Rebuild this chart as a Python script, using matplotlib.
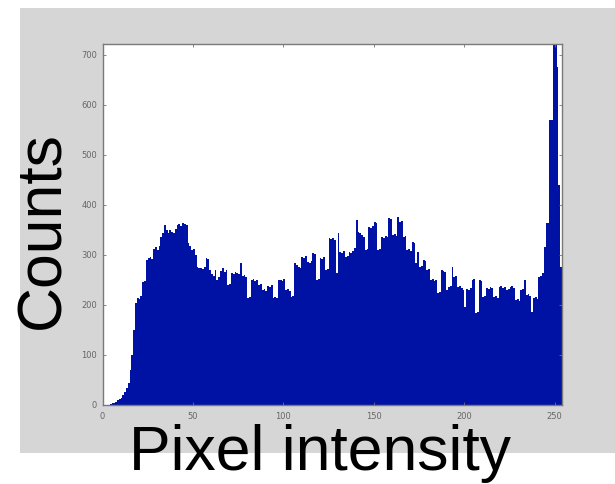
import numpy as np
from matplotlib import pyplot as plt
from matplotlib.patches import Rectangle

# histogram counts, one value per grey level 0..255
counts = [
    0, 0, 0, 1, 2, 4, 5, 6, 10, 12,
    14, 20, 26, 34, 44, 70, 100, 150, 205, 214,
    212, 218, 246, 248, 290, 294, 296, 292, 312, 316,
    310, 318, 336, 344, 360, 350, 344, 350, 346, 344,
    352, 360, 362, 358, 364, 362, 360, 324, 318, 310,
    312, 300, 276, 274, 274, 272, 276, 294, 292, 270,
    262, 258, 270, 250, 256, 268, 274, 266, 270, 240,
    242, 264, 262, 266, 264, 262, 284, 258, 260, 256,
    214, 216, 250, 252, 248, 250, 240, 242, 230, 232,
    228, 238, 236, 240, 214, 216, 214, 250, 250, 248,
    252, 230, 232, 228, 216, 218, 284, 280, 276, 274,
    296, 294, 298, 286, 284, 288, 304, 302, 250, 252,
    294, 292, 296, 270, 272, 334, 332, 334, 330, 264,
    344, 306, 304, 308, 296, 298, 306, 304, 308, 314,
    370, 346, 344, 340, 336, 310, 312, 356, 354, 358,
    366, 364, 310, 312, 336, 334, 338, 336, 374, 372,
    340, 342, 338, 376, 366, 368, 336, 338, 310, 312,
    308, 326, 324, 284, 306, 276, 278, 290, 288, 270,
    272, 250, 252, 248, 250, 224, 226, 270, 268, 266,
    230, 236, 238, 276, 256, 258, 236, 238, 234, 230,
    196, 232, 230, 234, 250, 252, 184, 186, 250, 248,
    216, 218, 234, 232, 236, 234, 216, 218, 214, 236,
    238, 234, 236, 230, 232, 236, 238, 234, 210, 212,
    208, 230, 232, 250, 220, 222, 218, 186, 214, 216,
    212, 256, 258, 264, 316, 364, 364, 570, 570, 780,
    790, 676, 440, 276, 276, 0,
]
edges = np.arange(len(counts) + 1)

xticks = [0, 50, 100, 150, 200, 250]
yticks = [0, 100, 200, 300, 400, 500, 600, 700]

fig = plt.figure(figsize=(6.15, 4.84), dpi=100)
fig.patch.set_facecolor('white')
# grey figure window behind the axes
fig.patches.append(Rectangle((20/615, 31/484), 1 - 20/615, 445/484,
                             transform=fig.transFigure, facecolor='#d6d6d6',
                             edgecolor='none', zorder=-5))

ax = fig.add_axes([102.5/615, 79/484, 459.5/615, 361/484])
ax.set_zorder(1)
ax.set_facecolor('white')
ax.stairs(counts, edges, fill=True, color='#0012a3', lw=0)
ax.set_xlim(0, 254)
ax.set_ylim(0, 722)

ax.set_xticks(xticks)
ax.set_yticks(yticks)
ax.tick_params(direction='in', length=2.5, width=0.6, color='#707070',
               labelcolor='#666666', labelsize=6, top=True, right=True)
ax.tick_params(axis='x', pad=5)
ax.tick_params(axis='y', pad=4)
for s in ax.spines.values():
    s.set_color('#7a7a7a')
    s.set_linewidth(1.0)

fig.text(59/615, 254/484, 'Counts', rotation=90,
         rotation_mode='anchor', ha='center', va='baseline',
         fontsize=45, family='Liberation Sans', color='black', zorder=3)
fig.text(320/615, 14/484, 'Pixel intensity', ha='center', va='baseline',
         fontsize=45, family='Liberation Sans', color='black', zorder=3)

fig.savefig('out.png', dpi=100)
